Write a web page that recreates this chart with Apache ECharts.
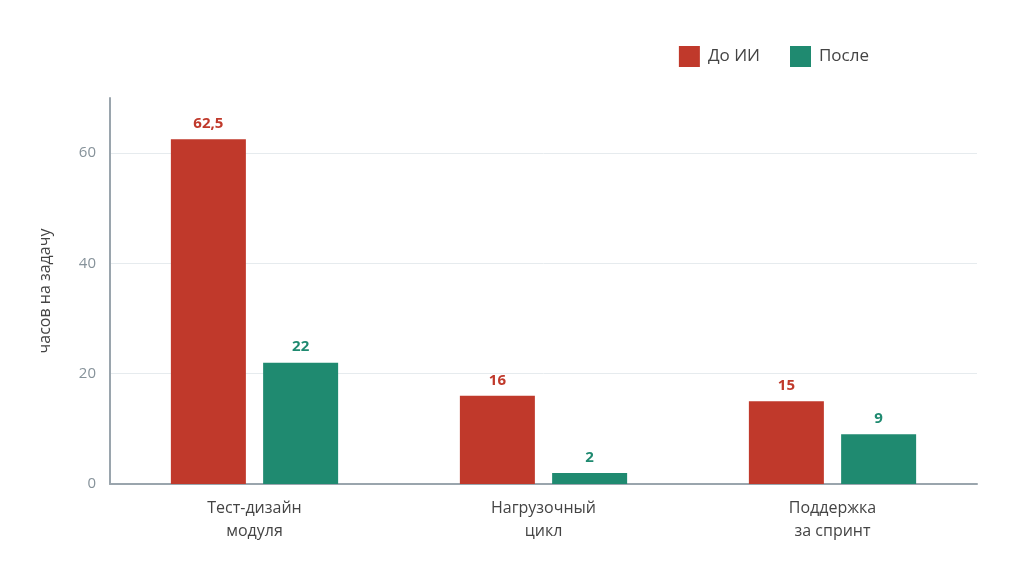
<!DOCTYPE html>
<html>
<head>
<meta charset="utf-8">
<script src="https://cdn.jsdelivr.net/npm/echarts@6/dist/echarts.min.js"></script>
<style>
html,body{margin:0;padding:0;background:#fff;}
#chart{width:1024px;height:577px;}
</style>
</head>
<body>
<div id="chart"></div>
<script>
// данные
var categories = ['Тест-дизайн\nмодуля', 'Нагрузочный\nцикл', 'Поддержка\nза спринт'];
var before = [62.5, 16, 15];
var after = [22, 2, 9];
var seriesNames = ['До ИИ', 'После'];
var colors = ['#C0392B', '#1F8A70'];

var myChart = echarts.init(document.getElementById('chart'));

function fmt(p) {
    return String(p.value).replace('.', ',');
}

var option = {
    textStyle: { fontFamily: 'Open Sans' },
    color: colors,
    legend: {
        data: seriesNames,
        icon: 'rect',
        top: 41,
        right: 150,
        itemWidth: 21,
        itemHeight: 21,
        itemGap: 30,
        textStyle: { fontSize: 17, color: '#444', padding: [0, 0, 0, 3] }
    },
    grid: { left: 110, right: 47, top: 98, bottom: 93 },
    xAxis: {
        type: 'category',
        data: categories,
        axisLine: { lineStyle: { color: '#9aa5ad', width: 2 } },
        axisTick: { show: false },
        axisLabel: { fontSize: 16, color: '#444', margin: 13, lineHeight: 23 }
    },
    yAxis: {
        type: 'value',
        min: 0,
        max: 70,
        interval: 20,
        name: 'часов на задачу',
        nameLocation: 'middle',
        nameGap: 57,
        nameTextStyle: { fontSize: 16, color: '#444' },
        axisLine: { show: true, lineStyle: { color: '#9aa5ad', width: 2 } },
        axisLabel: { fontSize: 15, color: '#86929a', margin: 14, showMaxLabel: false },
        splitLine: { showMaxLine: false, lineStyle: { color: '#e6ebee' } }
    },
    series: [
        {
            name: seriesNames[0],
            type: 'bar',
            data: before,
            barWidth: 75,
            barGap: '23%',
            label: { show: true, position: 'top', distance: 8, formatter: fmt, fontSize: 15, fontWeight: 'bold', color: colors[0] }
        },
        {
            name: seriesNames[1],
            type: 'bar',
            data: after,
            barWidth: 75,
            label: { show: true, position: 'top', distance: 8, formatter: fmt, fontSize: 15, fontWeight: 'bold', color: colors[1] }
        }
    ]
};

myChart.setOption(option);
</script>
</body>
</html>
